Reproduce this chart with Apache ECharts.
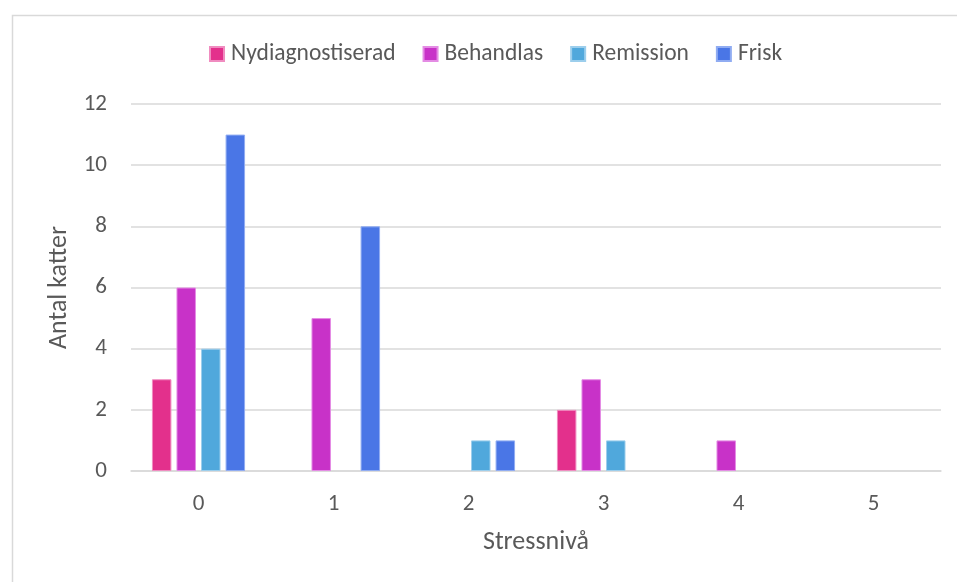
<!DOCTYPE html>
<html>
<head>
<meta charset="utf-8">
<script src="https://cdn.jsdelivr.net/npm/echarts@6/dist/echarts.min.js"></script>
<style>
  html, body { margin: 0; padding: 0; background: #ffffff; }
  #chart { width: 957px; height: 582px; }
</style>
</head>
<body>
<div id="chart"></div>
<script>
// Stress levels on the x axis
const categories = ['0', '1', '2', '3', '4', '5'];

// Number of cats per stress level, by disease status
const nydiagnostiserad = [3, 0, 0, 2, 0, 0];
const behandlas        = [6, 5, 0, 3, 1, 0];
const remission        = [4, 0, 1, 1, 0, 0];
const frisk            = [11, 8, 1, 0, 0, 0];

const seriesNames  = ['Nydiagnostiserad', 'Behandlas', 'Remission', 'Frisk'];
const seriesValues = [nydiagnostiserad, behandlas, remission, frisk];
const seriesColors = ['#E3308C', '#C832C8', '#50A8DC', '#4A76E6'];
const seriesBorders = ['#F08CC0', '#E48CE4', '#9CCEEC', '#90ACF2'];

const textColor = '#595959';
const font = 'Carlito, Lato, sans-serif';

const chart = echarts.init(document.getElementById('chart'));

chart.setOption({
  animation: false,
  backgroundColor: '#ffffff',
  textStyle: { fontFamily: font, color: textColor },
  graphic: [{
    type: 'rect',
    left: 10, top: 13,
    shape: { width: 990, height: 620 },
    style: { fill: 'none', stroke: '#d9d9d9', lineWidth: 1.5 },
    silent: true,
    z: -1
  }],
  legend: {
    top: 37,
    left: 204,
    itemWidth: 14,
    itemHeight: 14,
    itemGap: 27,
    icon: 'rect',
    textStyle: { fontFamily: font, fontSize: 23.5, color: textColor, padding: [0, 0, 0, 2] },
    data: seriesNames
  },
  grid: { left: 131, right: 16, top: 104, bottom: 111, containLabel: false },
  xAxis: {
    type: 'category',
    data: categories,
    name: 'Stressnivå',
    nameLocation: 'middle',
    nameGap: 58,
    nameTextStyle: { fontFamily: font, fontSize: 26, color: textColor },
    axisLine: { lineStyle: { color: '#d9d9d9', width: 1.5 } },
    axisTick: { show: false },
    axisLabel: { fontFamily: font, fontSize: 23, color: textColor, margin: 22 }
  },
  yAxis: {
    type: 'value',
    min: 0, max: 12, interval: 2,
    name: 'Antal katter',
    nameLocation: 'middle',
    nameGap: 51,
    nameRotate: 90,
    nameTextStyle: { fontFamily: font, fontSize: 26, color: textColor },
    axisLine: { show: false },
    axisTick: { show: false },
    axisLabel: { fontFamily: font, fontSize: 23, color: textColor, margin: 24 },
    splitLine: { lineStyle: { color: '#d9d9d9', width: 1.5 } }
  },
  series: seriesNames.map((name, i) => ({
    name: name,
    type: 'bar',
    // empty cells are left without a bar
    data: seriesValues[i].map(v => (v === 0 ? null : v)),
    barGap: '26%',
    barCategoryGap: '31%',
    itemStyle: { color: seriesColors[i], borderColor: seriesBorders[i], borderWidth: 1 }
  }))
});
</script>
</body>
</html>
